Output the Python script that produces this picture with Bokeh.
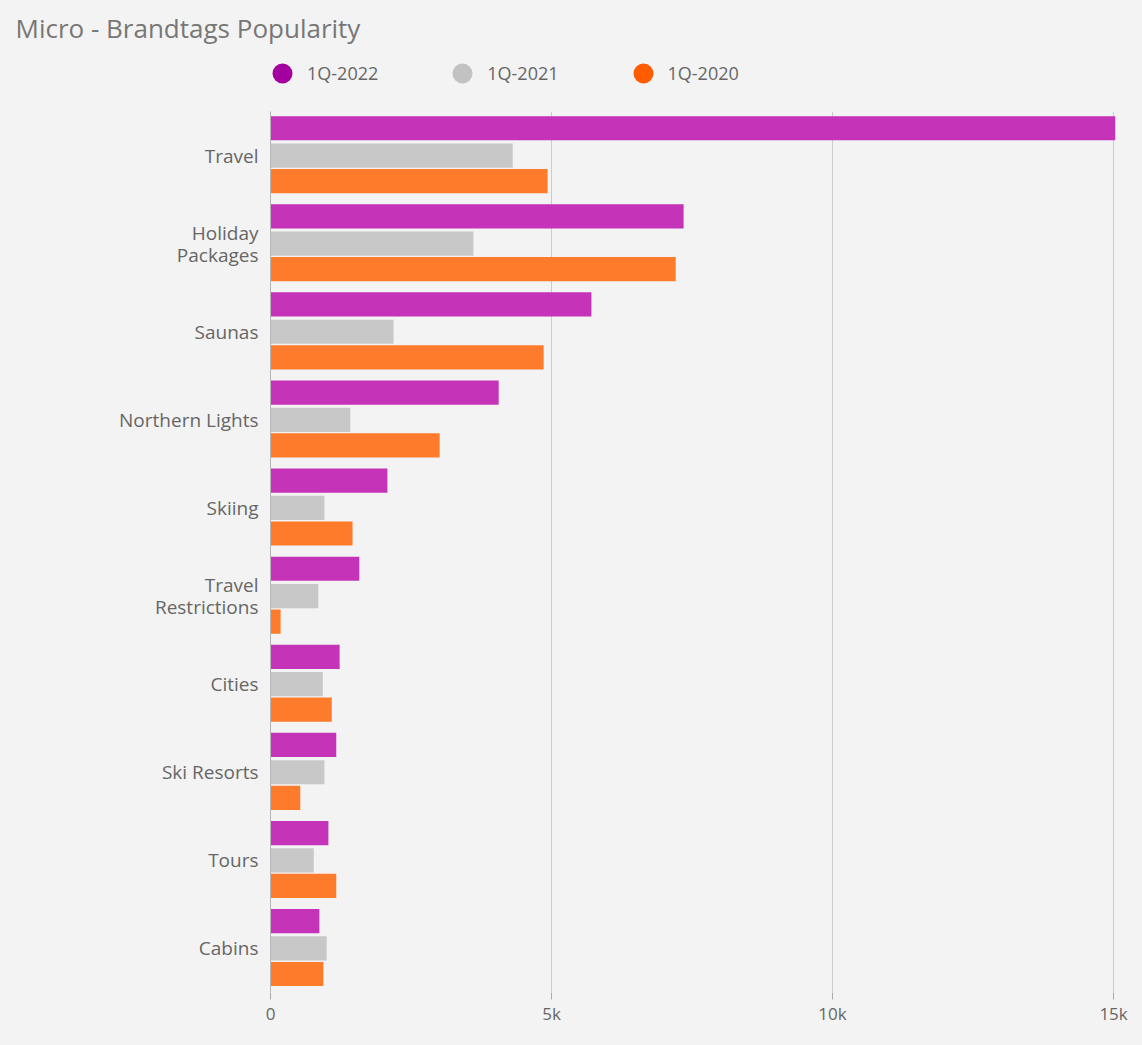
from bokeh.plotting import figure
from bokeh.layouts import column
from bokeh.models import (ColumnDataSource, FactorRange, Range1d, Legend, LegendItem,
                          FixedTicker, Title)
from bokeh.transform import dodge
from bokeh.embed import file_html
from bokeh.resources import INLINE

categories = ["Travel", "Holiday\nPackages", "Saunas", "Northern Lights", "Skiing",
              "Travel\nRestrictions", "Cities", "Ski Resorts", "Tours", "Cabins"]
q2022 = [15030, 7350, 5710, 4060, 2080, 1580, 1230, 1170, 1030, 870]
q2021 = [4310, 3610, 2190, 1420, 960, 850, 930, 960, 770, 1000]
q2020 = [4930, 7210, 4860, 3010, 1460, 180, 1090, 530, 1170, 940]
series_names = ["1Q-2022", "1Q-2021", "1Q-2020"]
bar_colors = ["#c433b8", "#c8c8c8", "#ff7b2c"]
legend_colors = ["#a3009f", "#c2c2c2", "#ff5c00"]
x_ticks = [0, 5000, 10000, 15000]
x_tick_labels = ["0", "5k", "10k", "15k"]

BG = "#f3f3f3"

# ---------- header: title + legend ----------
header = figure(width=1142, height=100, output_backend="svg", toolbar_location=None,
                x_axis_type=None, y_axis_type=None, x_range=Range1d(0, 1),
                y_range=Range1d(0, 1), min_border=0, min_border_top=46,
                background_fill_color=BG, border_fill_color=BG, outline_line_color=None)
header.xgrid.visible = False
header.ygrid.visible = False

items = []
for name, c in zip(series_names, legend_colors):
    r = header.scatter(x=[-1], y=[-1], marker="circle", size=0, fill_color=c,
                       line_color=None)
    items.append(LegendItem(label=name, renderers=[r]))

legend = Legend(items=items, orientation="horizontal", location="center_left",
                label_text_font="Open Sans", label_text_font_size="18px",
                label_text_color="#666666", glyph_width=50, glyph_height=50,
                spacing=59, label_standoff=0, border_line_color=None,
                background_fill_alpha=0, padding=0, margin=-13)
header.add_layout(legend, "center")

header.title = Title(text="Micro - Brandtags Popularity", align="left", offset=-255,
                     text_font="Open Sans", text_font_size="26px",
                     text_font_style="normal", text_color="#777777", standoff=2)

# ---------- main chart ----------
src = ColumnDataSource(dict(cat=categories, q2022=q2022, q2021=q2021, q2020=q2020))

p = figure(width=1142, height=945, output_backend="svg", toolbar_location=None,
           y_range=FactorRange(*reversed(categories)), x_range=Range1d(0, 15070),
           min_border_left=270, min_border_right=25, min_border_bottom=53,
           min_border_top=11,
           background_fill_color=BG, border_fill_color=BG, outline_line_color=None)

offsets = [0.31, 0.0, -0.29]
cols = ["q2022", "q2021", "q2020"]
for col, off, c in zip(cols, offsets, bar_colors):
    p.hbar(y=dodge("cat", off, range=p.y_range), right=col, left=0, height=0.275,
           source=src, fill_color=c, line_color=None)

p.xaxis.ticker = FixedTicker(ticks=x_ticks)
p.xaxis.major_label_overrides = {t: l for t, l in zip(x_ticks, x_tick_labels)}
p.xaxis.axis_line_color = None
p.xaxis.major_tick_line_color = "#aaaaaa"
p.xaxis.major_tick_in = 0
p.xaxis.major_tick_out = 7
p.xaxis.minor_tick_line_color = None
p.xaxis.major_label_text_font = "Open Sans"
p.xaxis.major_label_text_font_size = "17px"
p.xaxis.major_label_text_color = "#666666"
p.xaxis.major_label_standoff = 2

p.yaxis.axis_line_color = "#b5b5b5"
p.yaxis.major_tick_line_color = None
p.yaxis.minor_tick_line_color = None
p.yaxis.major_label_text_font = "Open Sans"
p.yaxis.major_label_text_font_size = "19px"
p.yaxis.major_label_text_color = "#666666"
p.yaxis.major_label_text_line_height = 0.85
p.yaxis.major_label_standoff = 6

p.xgrid.grid_line_color = "#cccccc"
p.xgrid.grid_line_width = 1
p.ygrid.grid_line_color = None

layout = column(header, p, spacing=0, styles={"background-color": BG})
open("out.html", "w").write(file_html(layout, INLINE))
